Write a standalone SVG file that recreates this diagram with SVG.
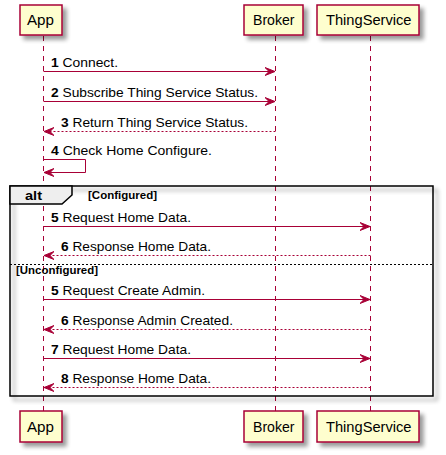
<svg xmlns="http://www.w3.org/2000/svg" width="446" height="455" viewBox="0 0 446 455">
<defs>
<filter id="sh" x="-20%" y="-20%" width="150%" height="160%">
<feGaussianBlur in="SourceAlpha" stdDeviation="2"/>
<feOffset dx="4" dy="4" result="b"/>
<feComponentTransfer><feFuncA type="linear" slope="0.4"/></feComponentTransfer>
<feMerge><feMergeNode/><feMergeNode in="SourceGraphic"/></feMerge>
</filter>
<marker id="ah" viewBox="0 0 11 10" refX="10" refY="5" markerWidth="11" markerHeight="10" markerUnits="userSpaceOnUse" orient="auto">
<polygon points="0,1 10,5 0,9 4,5" fill="#A80036" stroke="#A80036" stroke-width="1"/>
</marker>
</defs>
<style>
.part{fill:#FEFECE;stroke:#A80036;stroke-width:1.5}
.pt{font-family:"Liberation Sans",Arial,sans-serif;font-size:14px;fill:#000}
.life{stroke:#A80036;stroke-width:1;stroke-dasharray:5,5;fill:none}
.msg{stroke:#A80036;stroke-width:1;fill:none;marker-end:url(#ah)}
.dash{stroke-dasharray:2,2}
.mt{font-family:"Liberation Sans",Arial,sans-serif;font-size:13px;fill:#000}
.num{font-weight:bold}
.grp{fill:none;stroke:#000;stroke-width:1.5}
.gt{font-family:"Liberation Sans",Arial,sans-serif;font-weight:bold;fill:#000}
</style>
<g id="lifelines">
<line class="life" x1="43.5" y1="36" x2="43.5" y2="411"/>
<line class="life" x1="275.5" y1="36" x2="275.5" y2="411"/>
<line class="life" x1="370.5" y1="36" x2="370.5" y2="411"/>
</g>
<g id="alt">
<rect class="grp" x="10" y="186" width="423" height="210" filter="url(#sh)" fill="none"/>
<polygon points="10,186 72,186 72,195 62,204 10,204" fill="#EEEEEE" stroke="#000" stroke-width="1.5"/>
<text class="gt" x="25" y="200" font-size="13" textLength="17" lengthAdjust="spacingAndGlyphs">alt</text>
<text class="gt" x="88" y="199" font-size="11" textLength="69" lengthAdjust="spacingAndGlyphs">[Configured]</text>
<line x1="10" y1="264.5" x2="433" y2="264.5" stroke="#000" stroke-width="1" stroke-dasharray="2,2"/>
<text class="gt" x="16" y="274" font-size="11" textLength="82" lengthAdjust="spacingAndGlyphs">[Unconfigured]</text>
</g>
<g id="App">
<rect class="part" x="20" y="5" width="42" height="30" filter="url(#sh)"/>
<text class="pt" x="27" y="25" textLength="27" lengthAdjust="spacingAndGlyphs">App</text>
</g>
<g id="Broker">
<rect class="part" x="244" y="5" width="59" height="30" filter="url(#sh)"/>
<text class="pt" x="253" y="25" textLength="41.5" lengthAdjust="spacingAndGlyphs">Broker</text>
</g>
<g id="ThingService">
<rect class="part" x="317" y="5" width="102" height="30" filter="url(#sh)"/>
<text class="pt" x="326" y="25" textLength="85.5" lengthAdjust="spacingAndGlyphs">ThingService</text>
</g>
<g id="App-bottom">
<rect class="part" x="20" y="411" width="42" height="31" filter="url(#sh)"/>
<text class="pt" x="27" y="432" textLength="27" lengthAdjust="spacingAndGlyphs">App</text>
</g>
<g id="Broker-bottom">
<rect class="part" x="244" y="411" width="59" height="31" filter="url(#sh)"/>
<text class="pt" x="253" y="432" textLength="41.5" lengthAdjust="spacingAndGlyphs">Broker</text>
</g>
<g id="ThingService-bottom">
<rect class="part" x="317" y="411" width="102" height="31" filter="url(#sh)"/>
<text class="pt" x="326" y="432" textLength="85.5" lengthAdjust="spacingAndGlyphs">ThingService</text>
</g>
<g id="connectors">
<line class="msg" x1="43.5" y1="71.5" x2="275" y2="71.5"/>
<text class="mt" x="51" y="67" textLength="67" lengthAdjust="spacingAndGlyphs"><tspan class="num">1</tspan> Connect.</text>
<line class="msg" x1="43.5" y1="101.5" x2="275" y2="101.5"/>
<text class="mt" x="51" y="97" textLength="207" lengthAdjust="spacingAndGlyphs"><tspan class="num">2</tspan> Subscribe Thing Service Status.</text>
<line class="msg dash" x1="275.5" y1="131.5" x2="44" y2="131.5"/>
<text class="mt" x="61" y="127" textLength="187" lengthAdjust="spacingAndGlyphs"><tspan class="num">3</tspan> Return Thing Service Status.</text>
<polyline class="msg" points="43.5,159.5 85.5,159.5 85.5,172.5 44,172.5"/>
<text class="mt" x="51" y="155" textLength="161" lengthAdjust="spacingAndGlyphs"><tspan class="num">4</tspan> Check Home Configure.</text>
<line class="msg" x1="43.5" y1="226.5" x2="370" y2="226.5"/>
<text class="mt" x="51" y="222" textLength="140" lengthAdjust="spacingAndGlyphs"><tspan class="num">5</tspan> Request Home Data.</text>
<line class="msg dash" x1="370.5" y1="255.5" x2="44" y2="255.5"/>
<text class="mt" x="61" y="251" textLength="150" lengthAdjust="spacingAndGlyphs"><tspan class="num">6</tspan> Response Home Data.</text>
<line class="msg" x1="43.5" y1="299.5" x2="370" y2="299.5"/>
<text class="mt" x="51" y="295" textLength="154" lengthAdjust="spacingAndGlyphs"><tspan class="num">5</tspan> Request Create Admin.</text>
<line class="msg dash" x1="370.5" y1="329.5" x2="44" y2="329.5"/>
<text class="mt" x="61" y="325" textLength="172" lengthAdjust="spacingAndGlyphs"><tspan class="num">6</tspan> Response Admin Created.</text>
<line class="msg" x1="43.5" y1="358.5" x2="370" y2="358.5"/>
<text class="mt" x="51" y="354" textLength="140" lengthAdjust="spacingAndGlyphs"><tspan class="num">7</tspan> Request Home Data.</text>
<line class="msg dash" x1="370.5" y1="387.5" x2="44" y2="387.5"/>
<text class="mt" x="61" y="383" textLength="150" lengthAdjust="spacingAndGlyphs"><tspan class="num">8</tspan> Response Home Data.</text>
</g>
</svg>
